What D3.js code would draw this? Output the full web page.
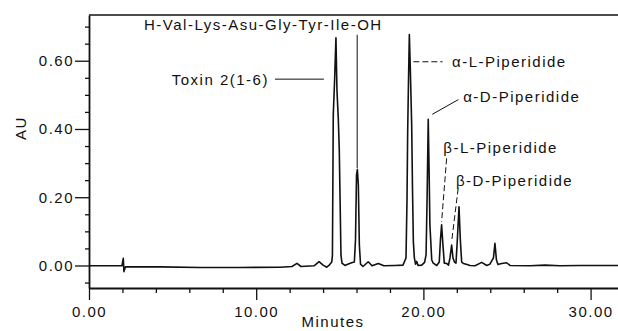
<html>
<head>
    <script src = "https://d3js.org/d3.v7.min.js"></script>
    <style>
        body { margin : 0; background : #fff; }
        text { font-family : "Liberation Sans", Arial, sans-serif; fill : #111; letter-spacing : 1.5px; }
    </style>
</head>
<body>
<script>

    // chromatogram trace: retention time (min) and absorbance (AU)
    var minutes = [0.00, 1.97, 2.05, 2.09, 2.18, 4.25, 6.64, 9.03, 11.42, 12.14, 12.44, 12.68, 13.46, 13.76, 14.00,
        14.22, 14.35, 14.52, 14.56, 14.61, 14.69, 14.77, 14.83, 14.91, 14.97, 15.01, 15.07, 15.13, 15.31, 15.51,
        15.71, 15.87, 15.94, 16.00, 16.05, 16.11, 16.17, 16.24, 16.39, 16.70, 16.93, 17.30, 17.64, 18.30, 18.78,
        18.96, 19.02, 19.06, 19.11, 19.16, 19.22, 19.30, 19.35, 19.40, 19.46, 19.53, 19.60, 19.68, 19.90, 20.07,
        20.16, 20.22, 20.29, 20.35, 20.39, 20.50, 20.59, 20.80, 20.95, 21.02, 21.09, 21.17, 21.25, 21.39, 21.50,
        21.59, 21.69, 21.77, 21.86, 21.95, 22.03, 22.13, 22.21, 22.29, 22.39, 22.61, 22.79, 23.09, 23.49, 23.79,
        23.98, 24.19, 24.28, 24.37, 24.46, 24.68, 24.98, 25.18, 26.38, 27.27, 28.17, 29.37, 31.64];
    var absorbance = [-0.001, -0.001, 0.021, -0.018, -0.004, -0.004, -0.006, -0.006, -0.005, -0.003, 0.006, -0.003, -0.001, 0.011, 0.001,
        -0.005, 0.000, 0.010, 0.031, 0.441, 0.544, 0.667, 0.514, 0.431, 0.338, 0.215, 0.031, 0.007, 0.000, 0.004,
        0.008, 0.010, 0.075, 0.265, 0.281, 0.236, 0.060, 0.004, -0.003, 0.011, -0.001, 0.006, -0.001, 0.000, 0.001,
        0.022, 0.192, 0.392, 0.543, 0.677, 0.573, 0.412, 0.221, 0.070, 0.022, 0.004, 0.012, 0.000, 0.001, 0.009,
        0.031, 0.192, 0.428, 0.251, 0.119, 0.016, 0.007, 0.000, 0.010, 0.075, 0.119, 0.060, 0.007, 0.006, 0.001,
        0.022, 0.060, 0.022, 0.010, 0.007, 0.075, 0.172, 0.075, 0.010, 0.006, 0.003, 0.000, -0.001, 0.009, 0.000,
        0.004, 0.022, 0.065, 0.016, 0.003, 0.006, 0.008, 0.000, -0.001, 0.001, -0.001, 0.000, 0.000];

    // axis ticks
    var xMajor = [0, 10, 20, 30];
    var xMinor = [2, 4, 6, 8, 12, 14, 16, 18, 22, 24, 26, 28];
    var yMajor = [0, 0.2, 0.4, 0.6];
    var yMinor = [-0.05, 0.05, 0.1, 0.15, 0.25, 0.3, 0.35, 0.45, 0.5, 0.55, 0.65, 0.7];

    // peak labels: text, label position (min, AU), leader line end points (min, AU), dashed or not
    var peakNames = ["H-Val-Lys-Asu-Gly-Tyr-Ile-OH", "Toxin 2(1-6)", "\u03b1-L-Piperidide",
        "\u03b1-D-Piperidide", "\u03b2-L-Piperidide", "\u03b2-D-Piperidide"];
    var labelAt = [[3.29, 0.690], [4.95, 0.530], [21.71, 0.582], [22.38, 0.480], [21.19, 0.330], [21.95, 0.232]];
    var leaderFrom = [[16.04, 0.676], [11.12, 0.546], [19.40, 0.597], [20.53, 0.443], [21.39, 0.314], [22.08, 0.226]];
    var leaderTo = [[16.04, 0.285], [14.05, 0.546], [21.15, 0.597], [22.09, 0.486], [21.09, 0.128], [21.69, 0.070]];
    var leaderDash = [false, false, true, false, true, true];

    var width = 618, height = 331;
    var x = d3.scaleLinear().domain([0, 31.64]).range([89, 618]);
    var y = d3.scaleLinear().domain([-0.066, 0.734]).range([288, 15]);

    var svg = d3.select("body").append("svg")
        .attr("width", width)
        .attr("height", height);

    //--------------------------axes-------------------------
    var fmt = d3.format(".2f");

    svg.append("g")
        .attr("transform", "translate(0," + y.range()[0] + ")")
        .call(d3.axisBottom(x).tickValues(xMinor).tickSize(5).tickFormat("").tickSizeOuter(0))
        .call(function (g) { g.select(".domain").remove(); });
    svg.append("g")
        .attr("class", "xaxis")
        .attr("transform", "translate(0," + y.range()[0] + ")")
        .call(d3.axisBottom(x).tickValues(xMajor).tickSize(12).tickPadding(6).tickFormat(fmt).tickSizeOuter(0));

    svg.append("g")
        .attr("transform", "translate(" + x.range()[0] + ",0)")
        .call(d3.axisLeft(y).tickValues(yMinor).tickSize(4).tickFormat("").tickSizeOuter(0))
        .call(function (g) { g.select(".domain").remove(); });
    svg.append("g")
        .attr("class", "yaxis")
        .attr("transform", "translate(" + x.range()[0] + ",0)")
        .call(d3.axisLeft(y).tickValues(yMajor).tickSize(14).tickPadding(1).tickFormat(fmt).tickSizeOuter(0));

    // top frame line
    svg.append("line")
        .attr("x1", x.range()[0]).attr("x2", x.range()[1])
        .attr("y1", y.range()[1]).attr("y2", y.range()[1])
        .attr("stroke", "#111")
        .attr("stroke-width", 1.6);

    svg.selectAll(".domain").attr("stroke", "#111").attr("stroke-width", 1.8);
    svg.selectAll(".tick line").attr("stroke", "#111").attr("stroke-width", 1.3);
    svg.selectAll(".tick text")
        .attr("font-size", 15)
        .attr("font-family", "Liberation Sans, Arial, sans-serif")
        .attr("fill", "#111");

    // axis titles
    svg.append("text")
        .attr("x", 333)
        .attr("y", 327)
        .attr("text-anchor", "middle")
        .attr("font-size", 15)
        .text("Minutes");
    svg.append("text")
        .attr("transform", "translate(26,128) rotate(-90)")
        .attr("text-anchor", "middle")
        .attr("font-size", 15)
        .text("AU");

    //--------------------------trace-------------------------
    var points = d3.zip(minutes, absorbance);
    svg.append("path")
        .datum(points)
        .attr("fill", "none")
        .attr("stroke", "#111")
        .attr("stroke-width", 1.6)
        .attr("stroke-linejoin", "round")
        .attr("d", d3.line()
            .x(function (d) { return x(d[0]); })
            .y(function (d) { return y(d[1]); }));

    //--------------------------peak labels-------------------------
    svg.selectAll(".leader")
        .data(d3.range(peakNames.length))
        .enter()
        .append("line")
        .attr("class", "leader")
        .attr("x1", function (i) { return x(leaderFrom[i][0]); })
        .attr("y1", function (i) { return y(leaderFrom[i][1]); })
        .attr("x2", function (i) { return x(leaderTo[i][0]); })
        .attr("y2", function (i) { return y(leaderTo[i][1]); })
        .attr("stroke", "#111")
        .attr("stroke-width", 1)
        .attr("stroke-dasharray", function (i) { return leaderDash[i] ? "6,3" : null; });

    svg.selectAll(".peakname")
        .data(d3.range(peakNames.length))
        .enter()
        .append("text")
        .attr("class", "peakname")
        .attr("x", function (i) { return x(labelAt[i][0]); })
        .attr("y", function (i) { return y(labelAt[i][1]); })
        .attr("font-size", 15)
        .text(function (i) { return peakNames[i]; });

</script>
</body>
</html>
